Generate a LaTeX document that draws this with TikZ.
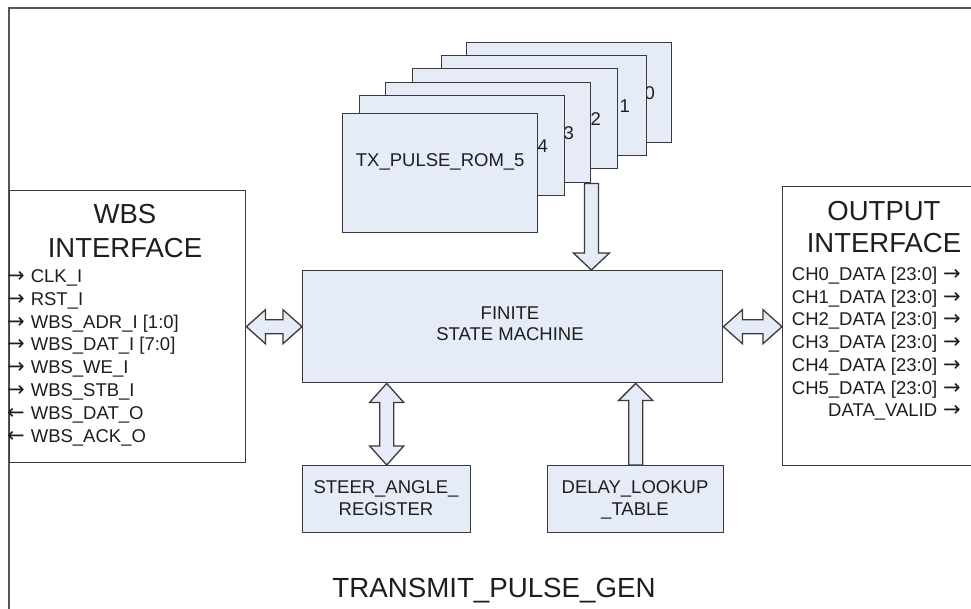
\documentclass[tikz,border=0pt]{standalone}
\usepackage{fontspec}
\setmainfont{Liberation Sans}
\newfontfamily\arrowfont{DejaVu Sans}
\usetikzlibrary{calc}

\definecolor{boxfill}{HTML}{E5ECF7}
\definecolor{edge}{HTML}{3A3A3A}
\definecolor{ink}{HTML}{1E1E1E}
\definecolor{framecol}{HTML}{555555}

% signal direction marks
\newcommand\sigin{{\arrowfont\fontsize{21}{22}\selectfont →}\hspace{6pt}}
\newcommand\sigout{{\arrowfont\fontsize{21}{22}\selectfont ←}\hspace{6pt}}
\newcommand\sigright{\hspace{6pt}{\arrowfont\fontsize{21}{22}\selectfont →}}

\tikzset{
  blk/.style={draw=edge, line width=1.4pt, fill=boxfill, inner sep=0pt, anchor=north west},
  panel/.style={draw=edge, line width=1.4pt, fill=white, inner sep=0pt, anchor=north west},
  blockarrow/.style={draw=edge, line width=1.3pt, fill=boxfill, line join=miter},
  small/.style={font=\fontsize{18.5}{22.8}\selectfont, text=ink, inner sep=0pt},
  big/.style={font=\fontsize{27.5}{33}\selectfont, text=ink, inner sep=0pt},
}

% horizontal double block arrow between two points (left, right)
\newcommand\hdblarrow[2]{%
  \draw[blockarrow] (#1) -- ++(19,-17) -- ++(0,10) -- ($(#2)+(-19,-7)$) -- ++(0,-10)
    -- (#2) -- ++(-19,17) -- ++(0,-10) -- ($(#1)+(19,7)$) -- ++(0,10) -- cycle;}
% vertical double block arrow between two points (upper, lower)
\newcommand\vdblarrow[2]{%
  \draw[blockarrow] (#1) -- ++(-17,19) -- ++(10,0) -- ($(#2)+(-7,-19)$) -- ++(-10,0)
    -- (#2) -- ++(17,-19) -- ++(-10,0) -- ($(#1)+(7,19)$) -- ++(10,0) -- cycle;}
% single block arrow pointing up: tip, tail
\newcommand\uparr[2]{%
  \draw[blockarrow] (#1) -- ++(-17,17) -- ++(10,0) -- ($(#2)+(-7,0)$) -- ($(#2)+(7,0)$)
    -- ($(#1)+(7,17)$) -- ++(10,0) -- cycle;}
% single block arrow pointing down: tip, tail
\newcommand\downarr[2]{%
  \draw[blockarrow] (#1) -- ++(-18,-17) -- ++(11,0) -- ($(#2)+(-7,0)$) -- ($(#2)+(7,0)$)
    -- ($(#1)+(7,-17)$) -- ++(11,0) -- cycle;}

\begin{document}
\begin{tikzpicture}[x=1pt, y=-1pt]
  \clip (0,0) rectangle (971,608);
  \fill[white] (0,0) rectangle (971,608);

  % enclosing module frame
  \draw[framecol, line width=2pt] (9,8) rectangle (1010,650);

  % interface panels
  \node[panel, minimum width=236pt, minimum height=272pt] (wbs) at (9,190) {};
  \node[panel, minimum width=240pt, minimum height=279pt] (out) at (782,186) {};

  % state machine
  \node[blk, minimum width=420pt, minimum height=112pt] (fsm) at (302,270) {};
  \node[small, anchor=base] (fsmA) at (510,319.7) {FINITE};
  \node[small, anchor=base] (fsmB) at (510,340.7) {STATE MACHINE};

  % stack of pulse ROMs, back to front; only the index of each rear ROM shows
  \foreach \k/\x/\y in {0/466/42, 1/441/55, 2/412/68, 3/385/82, 4/359/95} {
    \node[blk, minimum width=205pt, minimum height=100pt] (rom\k) at (\x,\y) {};
    \node[small, anchor=base east] (romlab\k) at ($(rom\k.center)+(86,6.7)$) {\k};
  }
  \node[blk, minimum width=195pt, minimum height=119pt] (rom5) at (342,113) {};
  \node[small, anchor=base] (romlab5) at ($(rom5.north)+(0,53.7)$) {TX\_PULSE\_ROM\_5};

  % lower blocks
  \node[blk, minimum width=168pt, minimum height=67pt] (steer) at (302,465) {};
  \node[small, anchor=base] (steerA) at (386,493.7) {STEER\_ANGLE\_};
  \node[small, anchor=base] (steerB) at (386,515.7) {REGISTER};
  \node[blk, minimum width=176pt, minimum height=67pt] (delay) at (547,465) {};
  \node[small, anchor=base] (delayA) at (635,493.7) {DELAY\_LOOKUP};
  \node[small, anchor=base] (delayB) at (635,515.7) {\_TABLE};

  % block arrows
  \coordinate (romtail) at (rom3.south east);
  \coordinate (romtip) at (rom3.south east |- fsm.north);
  \downarr{romtip}{romtail}

  \coordinate (wbsR) at (fsm.west -| wbs.east);
  \hdblarrow{wbsR}{fsm.west}
  \coordinate (outL) at (fsm.east -| out.west);
  \hdblarrow{fsm.east}{outL}

  \coordinate (steerTop) at (steer.north |- fsm.south);
  \vdblarrow{steerTop}{steer.north}
  \coordinate (delayTop) at (delay.north |- fsm.south);
  \uparr{delayTop}{delay.north}

  % WBS interface
  \node[big, anchor=base] (wbsT1) at (125,223.5) {WBS};
  \node[big, anchor=base] (wbsT2) at (125,257.5) {INTERFACE};
  \foreach \t [count=\i] in {\sigin CLK\_I, \sigin RST\_I, \sigin WBS\_ADR\_I [1:0],
                             \sigin WBS\_DAT\_I [7:0], \sigin WBS\_WE\_I, \sigin WBS\_STB\_I,
                             \sigout WBS\_DAT\_O, \sigout WBS\_ACK\_O} {
    \node[small, anchor=base west] (wsig\i) at (7,{282.5+22.8*(\i-1)}) {\t};
  }

  % output interface
  \node[big, anchor=base] (outT1) at (884,220.5) {OUTPUT};
  \node[big, anchor=base] (outT2) at (884,252.5) {INTERFACE};
  \foreach \t [count=\i] in {CH0\_DATA [23:0], CH1\_DATA [23:0], CH2\_DATA [23:0],
                             CH3\_DATA [23:0], CH4\_DATA [23:0], CH5\_DATA [23:0], DATA\_VALID} {
    \node[small, anchor=base east] (osig\i) at (961,{280.5+22.7*(\i-1)}) {\t\sigright};
  }

  % module name
  \node[font=\fontsize{27.7}{33}\selectfont, text=ink, inner sep=0pt, anchor=base] (modname)
    at (494,597) {TRANSMIT\_PULSE\_GEN};
\end{tikzpicture}
\end{document}
